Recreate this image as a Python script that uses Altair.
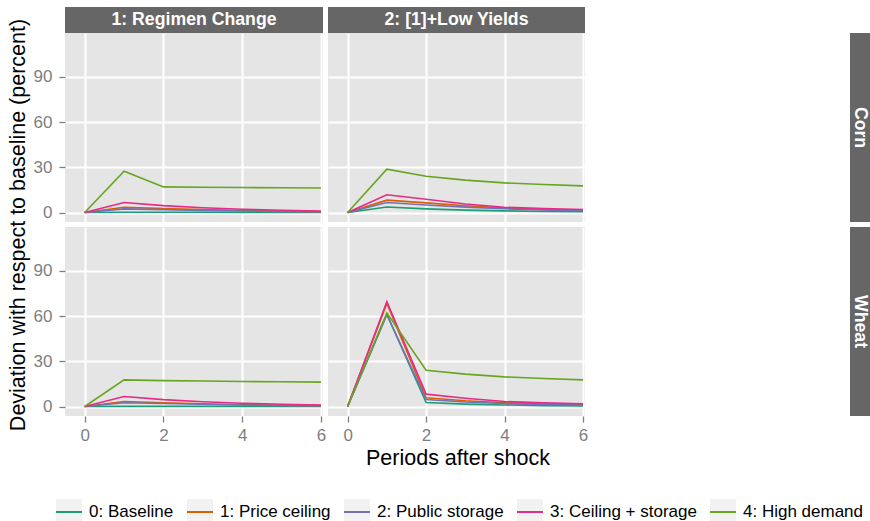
import altair as alt
import pandas as pd

# ---------------- data ----------------
periods = [0, 1, 2, 3, 4, 5, 6]
series_names = ["0: Baseline", "1: Price ceiling", "2: Public storage",
                "3: Ceiling + storage", "4: High demand"]
series_colors = ["#1B9E77", "#D95F02", "#7570B3", "#E7298A", "#66A61E"]
scenarios = ["1: Regimen Change", "2: [1]+Low Yields"]
crops = ["Corn", "Wheat"]
y_ticks = [0, 30, 60, 90]
x_ticks = [0, 2, 4, 6]

# Corn, 1: Regimen Change
corn_regimen_baseline = [0, 0.2, 0.2, 0.2, 0.1, 0.1, 0.1]
corn_regimen_ceiling = [0, 3.5, 2.6, 1.9, 1.3, 0.9, 0.6]
corn_regimen_storage = [0, 2.4, 1.9, 1.4, 1.0, 0.7, 0.5]
corn_regimen_ceil_stor = [0, 6.6, 4.6, 3.2, 2.2, 1.5, 1.0]
corn_regimen_demand = [0, 27.4, 17.0, 16.8, 16.6, 16.4, 16.3]

# Corn, 2: [1]+Low Yields
corn_lowyield_baseline = [0, 3.7, 2.4, 1.6, 1.1, 0.7, 0.5]
corn_lowyield_ceiling = [0, 8.2, 6.4, 4.5, 3.0, 2.0, 1.4]
corn_lowyield_storage = [0, 6.6, 5.0, 3.6, 2.5, 1.7, 1.2]
corn_lowyield_ceil_stor = [0, 11.8, 8.8, 5.7, 3.5, 2.6, 2.0]
corn_lowyield_demand = [0, 28.8, 24.1, 21.5, 19.7, 18.6, 17.7]

# Wheat, 1: Regimen Change
wheat_regimen_baseline = [0, 0.1, 0.1, 0.1, 0.1, 0.1, 0.1]
wheat_regimen_ceiling = [0, 3.3, 2.5, 1.8, 1.2, 0.8, 0.6]
wheat_regimen_storage = [0, 2.5, 2.0, 1.5, 1.0, 0.7, 0.5]
wheat_regimen_ceil_stor = [0, 6.6, 4.6, 3.2, 2.2, 1.5, 1.0]
wheat_regimen_demand = [0, 17.7, 17.2, 16.9, 16.6, 16.4, 16.2]

# Wheat, 2: [1]+Low Yields
wheat_lowyield_baseline = [0, 61.3, 2.7, 1.6, 1.0, 0.6, 0.4]
wheat_lowyield_ceiling = [0, 68.5, 5.8, 3.8, 2.5, 1.6, 1.1]
wheat_lowyield_storage = [0, 61.0, 4.6, 3.0, 2.0, 1.3, 0.9]
wheat_lowyield_ceil_stor = [0, 69.7, 8.2, 5.5, 3.3, 2.4, 1.8]
wheat_lowyield_demand = [0, 62.2, 24.1, 21.5, 19.7, 18.6, 17.7]

panel_series = {
    ("Corn", scenarios[0]): [corn_regimen_baseline, corn_regimen_ceiling, corn_regimen_storage,
                             corn_regimen_ceil_stor, corn_regimen_demand],
    ("Corn", scenarios[1]): [corn_lowyield_baseline, corn_lowyield_ceiling, corn_lowyield_storage,
                             corn_lowyield_ceil_stor, corn_lowyield_demand],
    ("Wheat", scenarios[0]): [wheat_regimen_baseline, wheat_regimen_ceiling, wheat_regimen_storage,
                              wheat_regimen_ceil_stor, wheat_regimen_demand],
    ("Wheat", scenarios[1]): [wheat_lowyield_baseline, wheat_lowyield_ceiling, wheat_lowyield_storage,
                              wheat_lowyield_ceil_stor, wheat_lowyield_demand],
}

# ---------------- styling ----------------
FONT = "Liberation Sans"
STRIP = "#666666"
PANEL_W = [258, 257]
PANEL_H = 189
STRIP_H = 26
ROWSTRIP_X = 522
ROWSTRIP_W = 20
STRIP_FONT = 17.7
LEG_X = -10
LEG_Y = 465
LEG_FONT = 17
LEG_SIDE = 26
LEG_OFF = 6
LEG_GAP = 9
# key glyph: horizontal line first, then the box outline as one sub-path;
# the dash pattern only strokes the line, the fill paints the grey key box
KEY_PATH = "M-1,0H1V-1H-1V1H1V0"

x_scale = alt.Scale(domain=[-0.5, 6.05], nice=False, zero=False)
y_scale = alt.Scale(domain=[-6.3, 119.2], nice=False, zero=False)
color_scale = alt.Scale(domain=series_names, range=series_colors)


def make_df(crop, scen):
    rows = []
    for name, vals in zip(series_names, panel_series[(crop, scen)]):
        for p, v in zip(periods, vals):
            rows.append({"period": p, "value": v, "series": name})
    return pd.DataFrame(rows)


legend = alt.Legend(orient="none", legendX=LEG_X, legendY=LEG_Y,
                    direction="horizontal", title=None,
                    symbolType=KEY_PATH, symbolSize=LEG_SIDE * LEG_SIDE,
                    symbolStrokeWidth=2, symbolFillColor="#F2F2F2",
                    symbolDash=[LEG_SIDE, 4000], symbolOpacity=1,
                    labelFontSize=LEG_FONT, labelFont=FONT, labelColor="black",
                    labelOffset=LEG_OFF, columnPadding=LEG_GAP)


def panel(r, c):
    crop, scen = crops[r], scenarios[c]
    df = make_df(crop, scen)
    w = PANEL_W[c]

    if r == 1:
        extra = {"title": None}
        if c == 0:
            extra = {"title": "Periods after shock", "titleX": 392.5, "titleY": 31,
                     "titleBaseline": "top", "titleAlign": "center"}
        x_axis = alt.Axis(values=x_ticks, labels=True, ticks=True, tickSize=6,
                          labelPadding=5, labelFontSize=17, labelColor="#7F7F7F",
                          labelFont=FONT, **extra)
    else:
        x_axis = alt.Axis(values=x_ticks, labels=False, ticks=False, title=None)

    if c == 0:
        extra = {"title": None}
        if r == 0:
            extra = {"title": "Deviation with respect to baseline (percent)",
                     "titleX": -41, "titleY": 191.5, "titleAngle": -90,
                     "titleBaseline": "alphabetic", "titleAlign": "center"}
        y_axis = alt.Axis(values=y_ticks, labels=True, ticks=True, tickSize=6,
                          labelPadding=7, labelFontSize=17, labelColor="#7F7F7F",
                          labelFont=FONT, **extra)
    else:
        y_axis = alt.Axis(values=y_ticks, labels=False, ticks=False, title=None)

    lines = alt.Chart(df).mark_line(strokeWidth=1.6, clip=True).encode(
        x=alt.X("period:Q", scale=x_scale, axis=x_axis),
        y=alt.Y("value:Q", scale=y_scale, axis=y_axis),
        color=alt.Color("series:N", scale=color_scale, sort=series_names, legend=legend),
    )
    layers = [lines]

    if r == 0:
        lab = pd.DataFrame({"label": [scen]})
        layers.append(alt.Chart(lab).mark_rect(color=STRIP).encode(
            x=alt.value(0), x2=alt.value(w), y=alt.value(-STRIP_H), y2=alt.value(0)))
        layers.append(alt.Chart(lab).mark_text(color="white", fontWeight="bold",
                                               fontSize=STRIP_FONT, font=FONT,
                                               baseline="middle", align="center").encode(
            x=alt.value(w / 2), y=alt.value(-STRIP_H / 2), text="label:N"))
    if c == 1:
        lab = pd.DataFrame({"label": [crop]})
        layers.append(alt.Chart(lab).mark_rect(color=STRIP).encode(
            x=alt.value(ROWSTRIP_X), x2=alt.value(ROWSTRIP_X + ROWSTRIP_W),
            y=alt.value(0), y2=alt.value(PANEL_H)))
        layers.append(alt.Chart(lab).mark_text(color="white", fontWeight="bold",
                                               fontSize=STRIP_FONT, font=FONT, angle=90,
                                               baseline="middle", align="center").encode(
            x=alt.value(ROWSTRIP_X + ROWSTRIP_W / 2), y=alt.value(PANEL_H / 2),
            text="label:N"))

    return alt.layer(*layers).properties(width=w, height=PANEL_H)


chart = alt.concat(
    panel(0, 0), panel(0, 1), panel(1, 0), panel(1, 1),
    columns=2, spacing=5, bounds="flush",
).resolve_scale(color="shared").resolve_legend(color="shared").properties(
    padding={"left": 6, "top": 7, "right": 0, "bottom": 0},
    background="white",
).configure_view(
    fill="#E5E5E5", stroke=None
).configure_axis(
    domain=False, grid=True, gridColor="white", gridWidth=2,
    tickColor="#7F7F7F", tickWidth=1.3,
    titleFont=FONT, titleFontSize=21.5, titleFontWeight="normal", titleColor="black",
)

chart.save("out.html", embed_options={"renderer": "svg", "actions": False})
